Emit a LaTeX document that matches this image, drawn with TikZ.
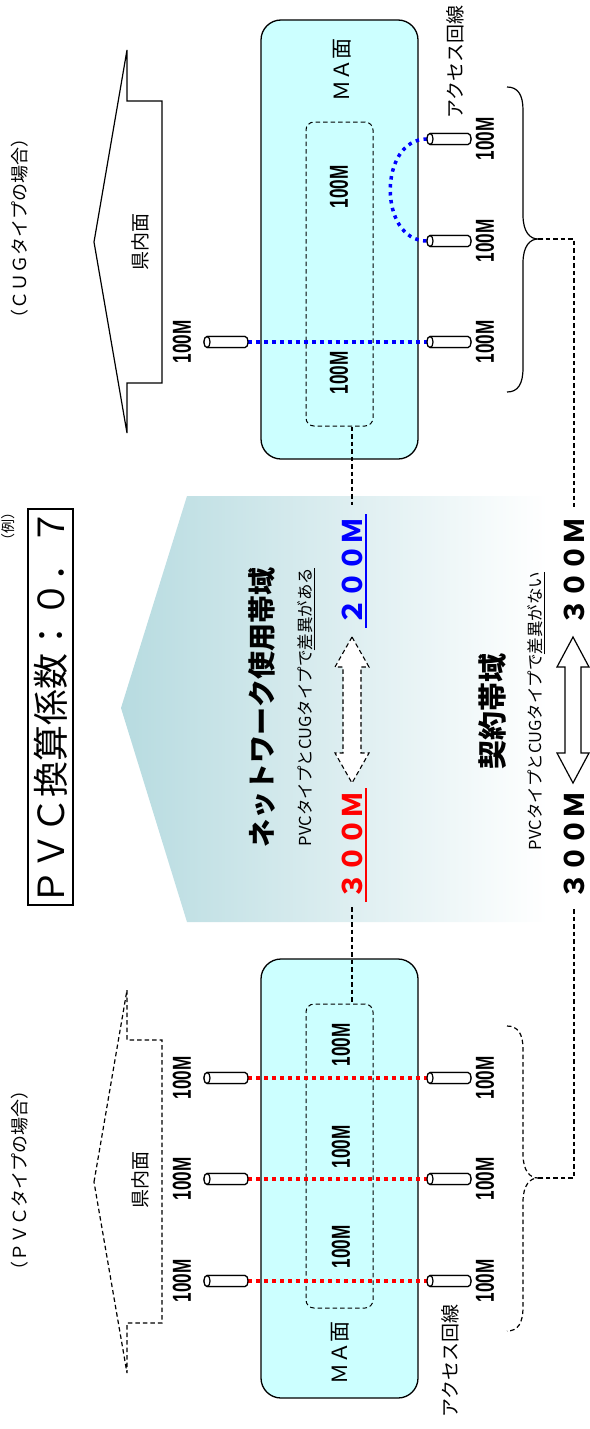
\documentclass[tikz,border=0pt]{standalone}
\usepackage{graphicx}
\usepackage{fontspec}
\setmainfont{Noto Sans CJK JP}
\newfontfamily\numfont{Liberation Sans}
\definecolor{macyan}{RGB}{204,255,255}
\definecolor{gradL}{RGB}{183,219,224}
\definecolor{dotblue}{RGB}{0,0,255}
\definecolor{dotred}{RGB}{255,0,0}
\newcommand\hundredM{\scalebox{0.66}[1]{\bfseries 100M}}
\tikzset{
  rot/.style={rotate=90, inner sep=0pt},
  fs/.style={font=\fontsize{#1}{#1}\selectfont},
  fsb/.style={font=\fontsize{#1}{#1}\selectfont\bfseries},
  dsh/.style={dash pattern=on 4.5pt off 3pt},
  mabox/.style={draw, fill=macyan, rounded corners=20pt, line width=1.3pt, minimum width=157pt, minimum height=439pt, inner sep=0pt},
  inbox/.style={draw, dsh, rounded corners=8pt, line width=1pt, minimum width=67pt, minimum height=304pt, inner sep=0pt},
  lbl/.style={rot, font=\numfont\fontsize{26}{26}\selectfont},
  dotl/.style={line width=3.5pt, dash pattern=on 3.5pt off 4.5pt},
  conn/.style={dsh, line width=1.1pt},
  cyl/.pic={
    \draw[fill=white, line width=1.2pt] (-19,-5.5) -- (19,-5.5) .. controls (23,-5.5) and (23,5.5) .. (19,5.5) -- (-19,5.5) .. controls (-23,5.5) and (-23,-5.5) .. (-19,-5.5) -- cycle;
    \draw[line width=1.2pt] (-19,-5.5) .. controls (-15,-5.5) and (-15,5.5) .. (-19,5.5);
    \coordinate (-w) at (-22,0);
    \coordinate (-e) at (22,0);
  }
}
\begin{document}
\begin{tikzpicture}[x=1pt,y=-1pt]
\useasboundingbox (0,0) rectangle (589,1429);

% big gradient arrow
\shade[left color=gradL, right color=white] (121,708) -- (187,496) -- (547,496) -- (547,922) -- (187,922) -- cycle;

% title
\node[rot, draw, line width=1.8pt, minimum width=396pt, minimum height=45pt, fs=36] (title) at (50.5,707) {ＰＶＣ換算係数：０．７};
\node[rot, fs=14] (rei) at (8,526) {（例）};

% case labels
\node[rot, fs=18] (cugcase) at (20,228) {（ＣＵＧタイプの場合）};
\node[rot, fs=18] (pvccase) at (20,1180) {（ＰＶＣタイプの場合）};

% prefecture arrows
\draw[line width=1.2pt] (94,242) -- (127,50) -- (127,101) -- (162,101) -- (162,383) -- (127,383) -- (127,433) -- cycle;
\draw[dsh, line width=1.2pt] (94,1182) -- (127,990) -- (127,1040) -- (162,1040) -- (162,1323) -- (127,1323) -- (127,1373) -- cycle;
\node[rot, fs=19] (kenT) at (140,242) {県内面};
\node[rot, fs=19] (kenB) at (140,1180) {県内面};

% MA boxes
\node[mabox] (maT) at (339.5,239.5) {};
\node[mabox] (maB) at (339.5,1178.5) {};
\node[inbox] (inT) at (339.5,274) {};
\node[inbox] (inB) at (339.5,1156) {};
\node[rot, fs=21] (maTt) at (342,70) {ＭＡ面};
\node[rot, fs=21] (maBt) at (340,1353) {ＭＡ面};
\node[lbl] (iT1) at (339,187) {\hundredM};
\node[lbl] (iT2) at (339,373) {\hundredM};
\node[lbl] (iB1) at (341,1045) {\hundredM};
\node[lbl] (iB2) at (341,1147) {\hundredM};
\node[lbl] (iB3) at (341,1247) {\hundredM};

% access line labels
\node[rot, fs=19] (accT) at (455,62) {アクセス回線};
\node[rot, fs=19] (accB) at (450,1361) {アクセス回線};

% cylinder anchor points
\path (226,342) pic (cTL) {cyl};
\path (449,139) pic (cTR1) {cyl};
\path (449,241) pic (cTR2) {cyl};
\path (449,342) pic (cTR3) {cyl};
\path (226,1078) pic (cBL1) {cyl};
\path (226,1179) pic (cBL2) {cyl};
\path (226,1281) pic (cBL3) {cyl};
\path (449,1078) pic (cBR1) {cyl};
\path (449,1179) pic (cBR2) {cyl};
\path (449,1281) pic (cBR3) {cyl};

% dotted paths
\draw[dotl, dotblue] (cTL-e) -- (cTR3-w);
\draw[dotl, dotblue] (cTR1-w) .. controls ([shift={(-49,0)}]cTR1-w) and ([shift={(-49,0)}]cTR2-w) .. (cTR2-w);
\draw[dotl, dotred] (cBL1-e) -- (cBR1-w);
\draw[dotl, dotred] (cBL2-e) -- (cBR2-w);
\draw[dotl, dotred] (cBL3-e) -- (cBR3-w);

% cylinders on top of the dotted lines
\path (226,342) pic (cTLb) {cyl};
\path (449,139) pic (cTR1b) {cyl};
\path (449,241) pic (cTR2b) {cyl};
\path (449,342) pic (cTR3b) {cyl};
\path (226,1078) pic (cBL1b) {cyl};
\path (226,1179) pic (cBL2b) {cyl};
\path (226,1281) pic (cBL3b) {cyl};
\path (449,1078) pic (cBR1b) {cyl};
\path (449,1179) pic (cBR2b) {cyl};
\path (449,1281) pic (cBR3b) {cyl};

% 100M labels
\node[lbl] (lT) at (182,342) {\hundredM};
\node[lbl] (rT1) at (485,139) {\hundredM};
\node[lbl] (rT2) at (485,241) {\hundredM};
\node[lbl] (rT3) at (485,342) {\hundredM};
\node[lbl] (lB1) at (182,1078) {\hundredM};
\node[lbl] (lB2) at (182,1179) {\hundredM};
\node[lbl] (lB3) at (182,1281) {\hundredM};
\node[lbl] (rB1) at (485,1078) {\hundredM};
\node[lbl] (rB2) at (485,1179) {\hundredM};
\node[lbl] (rB3) at (485,1281) {\hundredM};

% braces
\coordinate (bT) at (538,239);
\coordinate (bB) at (538,1178);
\draw[line width=1.2pt] (507,87) .. controls (518,87) and (523,95) .. (523,110) -- (523,215) .. controls (523,232) and (530,239) .. (bT) .. controls (530,239) and (523,246) .. (523,263) -- (523,368) .. controls (523,384) and (518,392) .. (507,392);
\draw[dsh, line width=1.2pt] (507,1026) .. controls (518,1026) and (523,1034) .. (523,1049) -- (523,1154) .. controls (523,1171) and (530,1178) .. (bB) .. controls (530,1178) and (523,1185) .. (523,1202) -- (523,1307) .. controls (523,1323) and (518,1331) .. (507,1331);

% gradient texts
\node[rot, fsb=28] (nw) at (262,707) {ネットワーク使用帯域};
\node[rot, fs=16.5] (nwsub) at (306,707) {PVCタイプとCUGタイプで\underline{差異がある}};
\node[rot, fsb=29] (kb) at (493,711) {契約帯域};
\node[rot, fs=16.5] (kbsub) at (536,711) {PVCタイプとCUGタイプで\underline{差異がない}};

% bandwidth values
\node[rot, fsb=27, text=dotblue] (b200) at (352,571) {２００Ｍ};
\node[rot, fsb=27, text=dotred] (r300) at (352,845) {３００Ｍ};
\node[rot, fsb=27] (c300a) at (574,571) {３００Ｍ};
\node[rot, fsb=27] (c300b) at (574,845) {３００Ｍ};
\draw[dotblue, line width=1.8pt] ([shift={(3,3)}]b200.south west) -- ([shift={(3,-3)}]b200.south east);
\draw[dotred, line width=1.8pt] ([shift={(3,3)}]r300.south west) -- ([shift={(3,-3)}]r300.south east);

% double arrows
\draw[dsh, fill=white, line width=1.1pt] (352,637) -- (369,667) -- (361,667) -- (361,753) -- (369,753) -- (352,783) -- (335,753) -- (343,753) -- (343,667) -- (335,667) -- cycle;
\draw[fill=white, line width=1.2pt] (573,637) -- (589,667) -- (581,667) -- (581,753) -- (589,753) -- (573,783) -- (557,753) -- (565,753) -- (565,667) -- (557,667) -- cycle;

% connectors
\draw[conn] (inT.south -| b200.east) -- ([shift={(0,-12)}]b200.east);
\draw[conn] ([shift={(0,8)}]r300.west) -- (inB.north -| r300.west);
\draw[conn] (bT) -| ([shift={(0,-10)}]c300a.east);
\draw[conn] ([shift={(0,10)}]c300b.west) |- (bB);
\end{tikzpicture}
\end{document}
